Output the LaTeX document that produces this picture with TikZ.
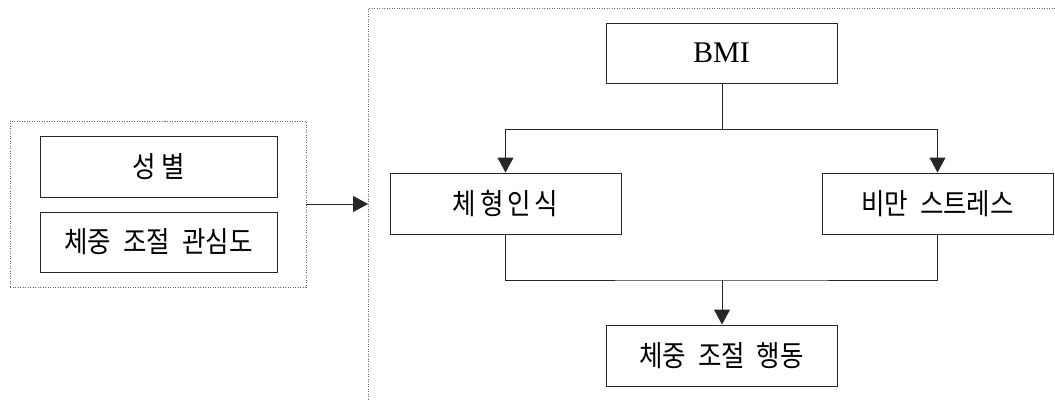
\documentclass[tikz,border=0pt]{standalone}
\usepackage{fontspec}
\setmainfont{Liberation Serif}
\newfontfamily\kr[WordSpace=2.1,FakeStretch=0.88]{Noto Sans CJK KR}
\usetikzlibrary{arrows.meta}
\tikzset{
  box/.style={draw=black!85, line width=1pt, rectangle, inner sep=0pt, minimum width=231pt, minimum height=61pt, font=\kr\fontsize{29}{32}\selectfont},
  grp/.style={draw=black!60, line width=0.9pt, dash pattern=on 1pt off 1.5pt, rectangle, inner sep=0pt},
  conn/.style={draw=black!85, line width=1pt},
  arr/.style={conn, -{Triangle[width=16pt,length=15pt]}}
}
\begin{document}
\begin{tikzpicture}[x=1pt,y=-1pt]
\useasboundingbox (0,0) rectangle (1055,400);
% left group
\node[grp, minimum width=296pt, minimum height=166pt] (lg) at (158,204) {};
\node[box, minimum width=237pt] (sex) at (158.5,166.5) {\addfontfeature{LetterSpace=19}성별};
\node[box, minimum width=237pt, minimum height=60pt] (interest) at (158.5,242) {체중 조절 관심도};
% right group (open frame)
\coordinate (rtr) at (1055,8);
\coordinate (rtl) at (368,8);
\coordinate (rbl) at (368,400);
\coordinate (rin) at (368,204);
\draw[grp] (rtr) -- (rtl) -- (rbl);
% nodes
\node[box, font=\fontsize{30}{32}\selectfont, minimum height=60pt] (bmi) at (721.5,53) {BMI};
\node[box] (body) at (505.5,203.5) {\addfontfeature{LetterSpace=13}체형인식};
\node[box] (stress) at (937.5,203.5) {비만 스트레스};
\node[box] (behav) at (721.5,355.5) {체중 조절 행동};
\coordinate (j1) at (722,129);
\coordinate (j2) at (722,280);
% connectors
\draw[arr] (lg.east |- rin) -- (rin);
\draw[conn] (bmi.south -| j1) -- (j1);
\draw[arr] (j1) -| (body.north);
\draw[arr] (j1) -| (stress.north);
\draw[conn] (body.south) |- (j2) -| (stress.south);
\draw[arr] (j2) -- (behav.north -| j2);
\end{tikzpicture}
\end{document}
